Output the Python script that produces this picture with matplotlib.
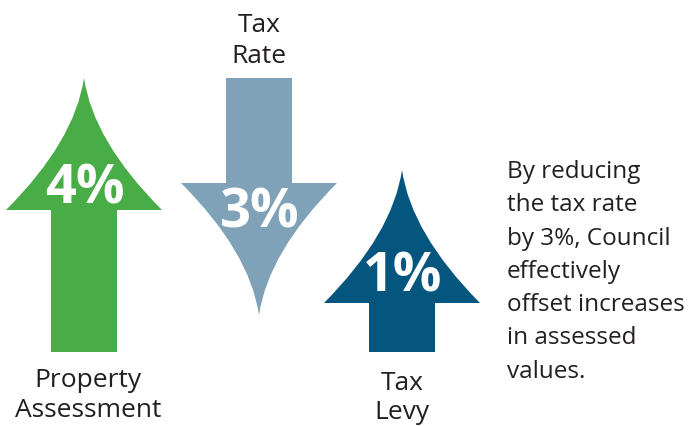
import matplotlib.pyplot as plt
from matplotlib.path import Path
from matplotlib.patches import PathPatch

# --- data ---------------------------------------------------------------
labels = ['Property\nAssessment', 'Tax\nRate', 'Tax\nLevy']
values = [4, 3, 1]
directions = ['up', 'down', 'up']
colors = ['#48ad46', '#7fa2b8', '#04567f']
note_lines = ['By reducing', 'the tax rate', 'by 3%, Council', 'effectively',
              'offset increases', 'in assessed', 'values.']

# --- layout (pixels, y downward) ----------------------------------------
centers = [84, 259, 402]
tips = [78, 315, 170]        # y of arrow tip
heads = [210, 183, 303]      # y of head base
ends = [352, 78, 352]        # y of shaft end
label_base = [(387, 417), (32, 63), (390, 419)]
label_x = [88, 259, 402]
pct_base = [203, 227, 292]
half_head = 78
half_shaft = 33

plt.rcParams['font.family'] = ['Open Sans', 'DejaVu Sans']
fig = plt.figure(figsize=(6.93, 4.26), dpi=100)
ax = fig.add_axes([0, 0, 1, 1])
ax.set_xlim(0, 693)
ax.set_ylim(426, 0)
ax.axis('off')


def arrow_path(cx, tip, head, end):
    h = head - tip
    cxo = 0.12 * half_head
    cyo = 0.48 * h
    verts = [
        (cx, tip),
        (cx + cxo, tip + cyo), (cx + half_head, head),
        (cx + half_shaft, head),
        (cx + half_shaft, end),
        (cx - half_shaft, end),
        (cx - half_shaft, head),
        (cx - half_head, head),
        (cx - cxo, tip + cyo), (cx, tip),
        (cx, tip),
    ]
    codes = [Path.MOVETO, Path.CURVE3, Path.CURVE3, Path.LINETO, Path.LINETO,
             Path.LINETO, Path.LINETO, Path.LINETO, Path.CURVE3, Path.CURVE3,
             Path.CLOSEPOLY]
    return Path(verts, codes)


for i in range(len(values)):
    p = arrow_path(centers[i], tips[i], heads[i], ends[i])
    ax.add_patch(PathPatch(p, facecolor=colors[i], edgecolor='none'))
    ax.text(centers[i] + 1, pct_base[i], f'{values[i]}%', color='white',
            fontsize=39, fontweight='bold', ha='center', va='baseline')
    for line, yb in zip(labels[i].split('\n'), label_base[i]):
        ax.text(label_x[i], yb, line, color='#231f20', fontsize=19,
                ha='center', va='baseline')

for k, line in enumerate(note_lines):
    ax.text(507, 178 + k * 33.3, line, color='#231f20', fontsize=17.5,
            ha='left', va='baseline')

fig.savefig('out.png', dpi=100)
